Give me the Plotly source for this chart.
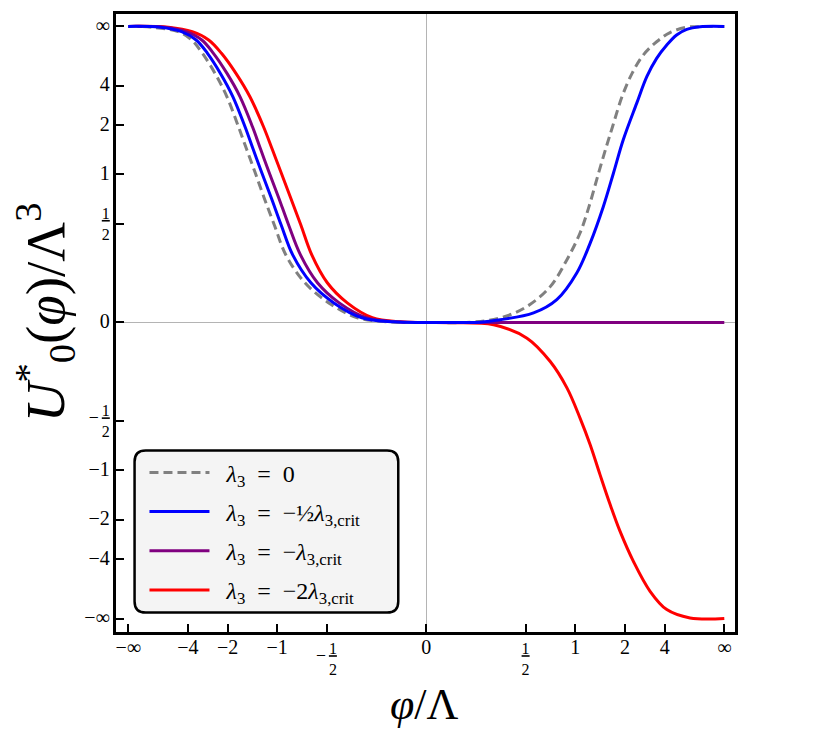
import plotly.graph_objects as go

# Compactified coordinates: u = x / (1 + |x|), so -1 and 1 stand for -inf and +inf
tick_vals = [-1.0, -0.8, -2 / 3, -0.5, -1 / 3, 0.0, 1 / 3, 0.5, 2 / 3, 0.8, 1.0]


def big(s):
    return f"<span style='font-size:20px'>{s}</span>"


NB = "\u00a0"
FRAC = "<u>1</u><br>2"
x_tick_text = [big("−∞"), big("−4"), big("−2"), big("−1"), "_" + NB + "<u>1</u><br>" + NB * 3 + "2",
               big("0"), FRAC, big("1"), big("2"), big("4"), big("∞")]
y_tick_text = [big("−∞"), big("−4"), big("−2"), big("−1"), "_" + NB + FRAC,
               big("0"), FRAC, big("1"), big("2"), big("4"), big("∞")]

# left branches share these heights
left_v = [1.0, 0.997, 0.982, 0.954, 0.909, 0.842, 0.763, 0.661, 0.583, 0.509, 0.424, 0.330,
          0.228, 0.134, 0.066, 0.016, 0.002, 0.0]

# lambda_3 = 0 (dashed gray)
gray_u = [-1.0, -0.919, -0.832, -0.787, -0.751, -0.709, -0.669, -0.630, -0.602, -0.575, -0.545, -0.510,
          -0.471, -0.407, -0.327, -0.231, -0.127, 0.0,
          0.148, 0.248, 0.338, 0.416, 0.472, 0.516, 0.546, 0.578, 0.605, 0.625, 0.657, 0.691,
          0.728, 0.773, 0.818, 0.874, 0.919, 1.0]
gray_v = left_v + [0.001, 0.015, 0.054, 0.121, 0.212, 0.302, 0.391, 0.504, 0.596, 0.661, 0.763, 0.842,
                   0.903, 0.948, 0.979, 0.997, 0.999, 1.0]

# lambda_3 = -1/2 lambda_3,crit (blue)
blue_u = [-1.0, -0.892, -0.821, -0.772, -0.734, -0.691, -0.649, -0.608, -0.580, -0.553, -0.521, -0.487,
          -0.448, -0.387, -0.310, -0.216, -0.111, 0.0,
          0.181, 0.248, 0.360, 0.438, 0.505, 0.550, 0.594, 0.628, 0.661, 0.706, 0.740, 0.773,
          0.807, 0.840, 0.874, 0.919, 1.0]
blue_v = left_v + [0.001, 0.009, 0.032, 0.077, 0.167, 0.268, 0.391, 0.504, 0.617, 0.740, 0.830, 0.892,
                   0.937, 0.971, 0.990, 0.999, 1.0]

# lambda_3 = -lambda_3,crit (purple)
purple_u = [-1.0, -0.878, -0.806, -0.753, -0.714, -0.669, -0.625, -0.583, -0.555, -0.528, -0.496, -0.462,
            -0.422, -0.365, -0.292, -0.201, -0.101, 0.0, 0.5, 1.0]
purple_v = left_v + [0.0, 0.0]

# lambda_3 = -2 lambda_3,crit (red)
red_u = [-1.0, -0.865, -0.785, -0.730, -0.687, -0.639, -0.592, -0.546, -0.516, -0.488, -0.456, -0.421,
         -0.384, -0.332, -0.265, -0.181, -0.087, 0.0,
         0.080, 0.226, 0.338, 0.416, 0.472, 0.516, 0.550, 0.583, 0.617, 0.650, 0.695, 0.751,
         0.807, 0.885, 1.0]
red_v = left_v + [-0.001, -0.008, -0.053, -0.132, -0.221, -0.323, -0.413, -0.514, -0.615, -0.705,
                  -0.807, -0.908, -0.970, -0.998, -1.0]

LAM = "<i>λ</i><sub>3</sub>"
EQ = "\u2002=\u2002"
PAD = NB * 2
names = {
    "gray": PAD + LAM + EQ + "0",
    "blue": PAD + LAM + EQ + "−½<i>λ</i><sub>3,crit</sub>",
    "purple": PAD + LAM + EQ + "−<i>λ</i><sub>3,crit</sub>",
    "red": PAD + LAM + EQ + "−2<i>λ</i><sub>3,crit</sub>",
}

SERIF = "Liberation Serif, Times New Roman, serif"

fig = go.Figure()

# drawing order: red, purple, gray, blue (blue ends up on top); legend order via legendrank
curves = [
    ("red", red_u, red_v, "#ff0000", "solid", 4),
    ("purple", purple_u, purple_v, "#800080", "solid", 3),
    ("gray", gray_u, gray_v, "#808080", "9px,5px", 1),
    ("blue", blue_u, blue_v, "#0000ff", "solid", 2),
]
for key, u, v, color, dash, rank in curves:
    fig.add_trace(
        go.Scatter(
            x=u,
            y=v,
            mode="lines",
            name=names[key],
            legendgroup=key,
            legendrank=rank,
            line={"color": color, "width": 3, "dash": dash, "shape": "spline", "smoothing": 1.0},
        )
    )

# rounded legend box
x0, x1, y0, y1 = 0.030, 0.456, 0.0315, 0.2935
rx, ry = 0.018, 0.018
box = (
    f"M{x0 + rx},{y0} L{x1 - rx},{y0} Q{x1},{y0} {x1},{y0 + ry} "
    f"L{x1},{y1 - ry} Q{x1},{y1} {x1 - rx},{y1} "
    f"L{x0 + rx},{y1} Q{x0},{y1} {x0},{y1 - ry} "
    f"L{x0},{y0 + ry} Q{x0},{y0} {x0 + rx},{y0} Z"
)
fig.add_shape(type="path", path=box, xref="paper", yref="paper",
              fillcolor="#f4f4f4", line={"color": "black", "width": 2.5}, layer="below")

axis_common = dict(
    tickmode="array",
    tickvals=tick_vals,
    ticks="inside",
    ticklen=8,
    tickwidth=1.5,
    tickcolor="black",
    showline=True,
    linewidth=3,
    linecolor="black",
    mirror=True,
    showgrid=False,
    zeroline=True,
    zerolinecolor="#b4b4b4",
    zerolinewidth=1,
    automargin=False,
    tickfont={"family": SERIF, "size": 16, "color": "black"},
)

fig.update_xaxes(range=[-1.0409, 1.0359], ticktext=x_tick_text, **axis_common)
fig.update_yaxes(range=[-1.0456, 1.0418], ticktext=y_tick_text, **axis_common)

# axis titles
fig.add_annotation(
    text="<i>φ</i>/Λ", xref="paper", yref="paper", x=0.498, y=-0.117,
    xanchor="center", yanchor="middle", showarrow=False,
    font={"family": SERIF, "size": 44, "color": "black"},
)
fig.add_annotation(
    text="<i>U</i><sup>*</sup><sub>0</sub>(<i>φ</i>)/Λ<sup>3</sup>", xref="paper", yref="paper",
    x=-0.1138, y=0.5166, xanchor="center", yanchor="middle", textangle=-90, showarrow=False,
    font={"family": SERIF, "size": 55, "color": "black"},
)

fig.update_layout(
    width=815,
    height=720,
    margin={"l": 107.5, "r": 88, "t": 6, "b": 95.5},
    plot_bgcolor="white",
    paper_bgcolor="white",
    showlegend=True,
    legend={
        "x": 0.046,
        "y": 0.294,
        "xanchor": "left",
        "yanchor": "top",
        "bgcolor": "rgba(0,0,0,0)",
        "borderwidth": 0,
        "font": {"family": SERIF, "size": 24, "color": "black"},
        "traceorder": "grouped",
        "tracegroupgap": 5,
        "itemwidth": 60,
    },
)

fig.write_html("out.html")
